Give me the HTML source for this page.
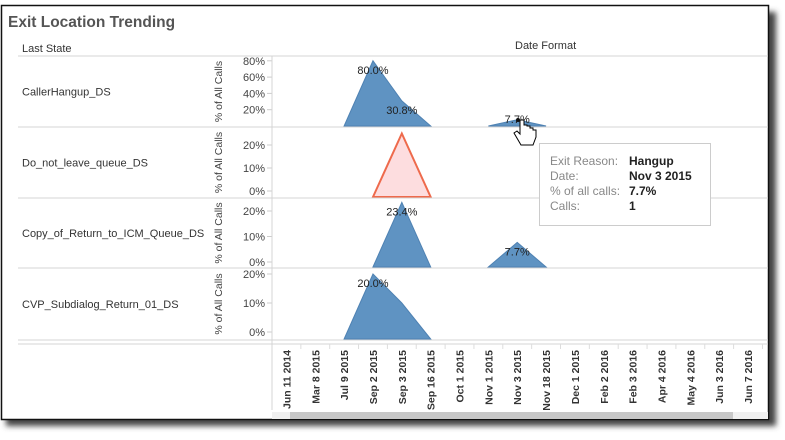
<!DOCTYPE html>
<html><head><meta charset="utf-8"><style>
body{margin:0;background:#fff;width:785px;height:440px;overflow:hidden;font-family:"Liberation Sans",Arial,sans-serif}
svg{position:absolute;left:0;top:0}
</style></head><body>
<svg id="c" width="785" height="440">
<defs><filter id="bl" x="-5%" y="-5%" width="110%" height="110%"><feGaussianBlur stdDeviation="3"/></filter></defs>
</svg>
<script>
const dates=["Jun 11 2014","Mar 8 2015","Jul 9 2015","Sep 2 2015","Sep 3 2015","Sep 16 2015","Oct 1 2015","Nov 1 2015","Nov 3 2015","Nov 18 2015","Dec 1 2015","Feb 2 2016","Feb 3 2016","Apr 4 2016","May 4 2016","Jun 3 2016","Jun 7 2016"];
const rowNames=["CallerHangup_DS","Do_not_leave_queue_DS","Copy_of_Return_to_ICM_Queue_DS","CVP_Subdialog_Return_01_DS"];
const s0=[null,null,0,80,30.8,0,null,0,7.7,0,null,null,null,null,null,null,null];
const s1=[null,null,null,0,25,0,null,null,null,null,null,null,null,null,null,null,null];
const s2=[null,null,null,0,23.4,0,null,0,7.7,0,null,null,null,null,null,null,null];
const s3=[null,null,0,20,10,0,null,null,null,null,null,null,null,null,null,null,null];
const labels0=[[3,"80.0%"],[4,"30.8%"],[8,"7.7%"]];
const labels2=[[4,"23.4%"],[8,"7.7%"]];
const labels3=[[3,"20.0%"]];
const ticks0=[20,40,60,80];
const ticks1=[0,10,20];
const NS="http://www.w3.org/2000/svg";
const svg=document.getElementById('c');
function el(t,a,txt,parent){const e=document.createElementNS(NS,t);for(const k in a)e.setAttribute(k,a[k]);if(txt!==undefined)e.textContent=txt;(parent||svg).appendChild(e);return e;}
const X0=272,CW=28.85;
function xs(i){return X0+CW*(i+0.5);}
let sh=el('rect',{x:6,y:12,width:770,height:414,fill:'#444',filter:'url(#bl)'});


let fr=el('rect',{x:1.5,y:5.5,width:767,height:414,fill:'#fff',stroke:'#111','stroke-width':1.5});


let t=el('text',{x:8,y:27,'font-size':15.5,'font-weight':'bold',fill:'#555'},'Exit Location Trending');


t=el('text',{x:22,y:52,'font-size':11,fill:'#333'},'Last State');


t=el('text',{x:515,y:49,'font-size':11,fill:'#333'},'Date Format');


const rows=[
 {top:56,bot:127,zero:126,scale:16.3/20,s:s0,ticks:ticks0,labels:labels0,fill:'#5f93c2',stroke:'#4f82b3'},
 {top:127,bot:198,zero:191,scale:23/10,s:s1,ticks:ticks1,labels:[],fill:'#fddddf',stroke:'#ee6a4c'},
 {top:198,bot:268,zero:262,scale:25.5/10,s:s2,ticks:ticks1,labels:labels2,fill:'#5f93c2',stroke:'#4f82b3'},
 {top:268,bot:340,zero:332,scale:29/10,s:s3,ticks:ticks1,labels:labels3,fill:'#5f93c2',stroke:'#4f82b3'}];
rows.forEach((r,ri)=>{
 let l=el('line',{x1:18,x2:768,y1:r.top,y2:r.top,stroke:'#d4d4d4'});
 
 
 let n=el('text',{x:22,y:(r.top+r.bot)/2+4,'font-size':11,fill:'#333'},rowNames[ri]);
 
 
 let yt=el('text',{transform:`translate(222,${(r.top+r.bot)/2}) rotate(-90)`,'text-anchor':'middle','font-size':10.5,fill:'#444'},'% of All Calls');
 
 
 const Y=v=>r.zero-v*r.scale;
 r.ticks.forEach(v=>{
  let tk=el('text',{x:265,y:Y(v)+4,'text-anchor':'end','font-size':11,fill:'#444'},v+'%');
  
  
  el('line',{x1:267,x2:272,y1:Y(v),y2:Y(v),stroke:'#ccc'});
 });
 let seg=[];const segs=[];
 r.s.forEach((v,i)=>{if(v===null){if(seg.length)segs.push(seg);seg=[];}else seg.push([i,v]);});
 if(seg.length)segs.push(seg);
 const bottom=ri==0?r.zero:r.bot-1;
 segs.forEach(sg=>{
  let d=sg.map((p,k)=>(k?'L':'M')+xs(p[0])+','+(p[1]===0?bottom:Y(p[1]))).join(' ');
  let a=el('path',{d:d+' Z',fill:r.fill,stroke:r.stroke,'stroke-width':ri==1?2:1});
  
  
 });
 r.labels.forEach(([i,txt])=>{
  let v=r.s[i];
  let lb=el('text',{x:xs(i),y:Math.max(Math.min(Y(v)+13,r.zero-3),r.top+11),'text-anchor':'middle','font-size':11,fill:'#222'},txt);
  
  
 });
});
el('line',{x1:18,x2:768,y1:340,y2:340,stroke:'#d4d4d4'});
el('line',{x1:18,x2:768,y1:344,y2:344,stroke:'#d4d4d4'});
let ax=el('line',{x1:272,x2:272,y1:56,y2:410,stroke:'#d4d4d4'});


dates.forEach((d,i)=>{
 el('line',{x1:X0+CW*(i+1),x2:X0+CW*(i+1),y1:344,y2:349,stroke:'#ddd'});
 let tx=el('text',{transform:`translate(${xs(i)+4},${350}) rotate(-90)`,'text-anchor':'end','font-size':10.5,'font-weight':'bold',fill:'#333'},d);
 
 
});
let sb=el('rect',{x:272,y:412,width:496,height:7,fill:'#f0f0f0'});


let th=el('rect',{x:290,y:412,width:443,height:7,fill:'#c8c8c8'});


let tg=el('g',{});


el('rect',{x:539.5,y:143.5,width:171,height:82,fill:'#fff',stroke:'#ccc'},undefined,tg);
[['Exit Reason:','Hangup'],['Date:','Nov 3 2015'],['% of all calls:','7.7%'],['Calls:','1']].forEach((p,k)=>{
 el('text',{x:550,y:165+k*15,'font-size':12,fill:'#888'},p[0],tg);
 el('text',{x:629,y:165+k*15,'font-size':12,'font-weight':'bold',fill:'#222'},p[1],tg);
});
let cu=el('path',{d:'M520,120 l0,14 l-3,-3 l-3,2 l7,12 l12,0 l3,-8 l0,-7 l-3,0 l0,-2 l-3,0 l0,-2 l-3,0 l0,-1 l-3,0 l0,-5 z',fill:'#fff',stroke:'#000','stroke-width':1});


el('circle',{cx:518,cy:120,r:2,fill:'#111'});
</script>
</body></html>
